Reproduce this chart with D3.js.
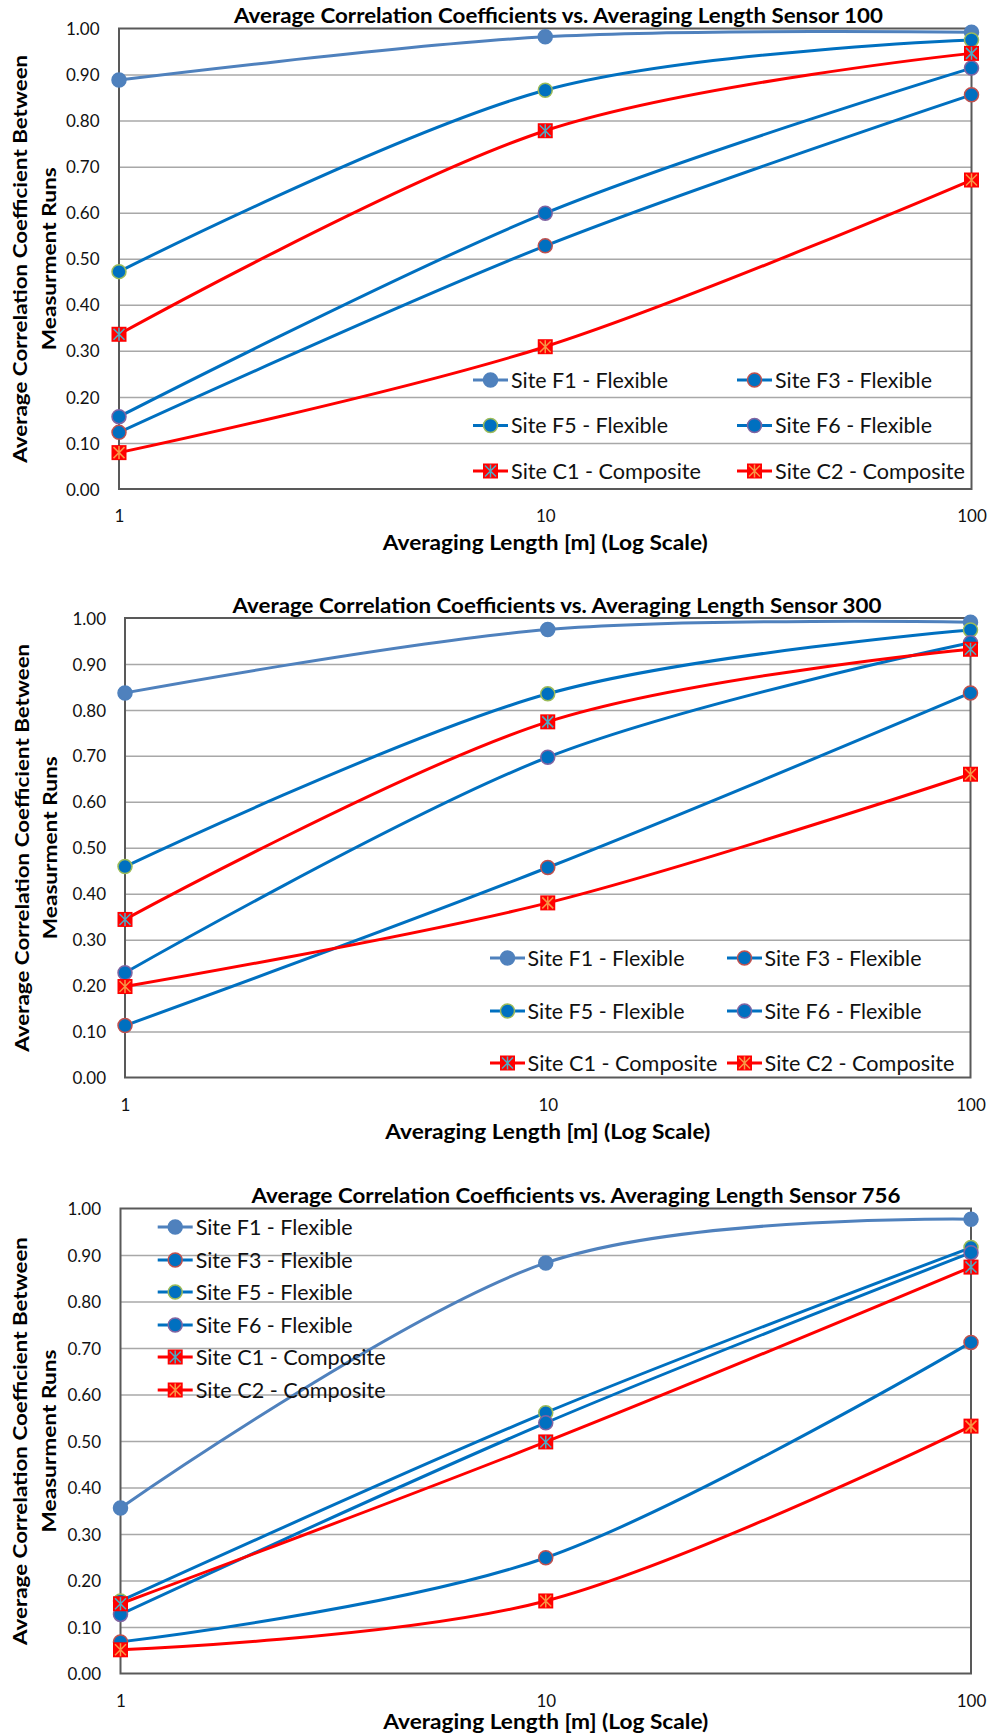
<!DOCTYPE html>
<html>
<head>
<meta charset="utf-8">
<script src="https://cdn.jsdelivr.net/npm/d3@7"></script>
<style>
  body { margin: 0; background: #fff; }
  svg { display: block; }
</style>
</head>
<body>
<svg id="chart" width="991" height="1735"></svg>
<script>
// data
const averagingLengths = [1, 10, 100];
const xTickValues = [1, 10, 100];
const yTickValues = [0, 0.1, 0.2, 0.3, 0.4, 0.5, 0.6, 0.7, 0.8, 0.9, 1.0];
const seriesNames = [
  'Site F1 - Flexible', 'Site F3 - Flexible', 'Site F5 - Flexible',
  'Site F6 - Flexible', 'Site C1 - Composite', 'Site C2 - Composite'
];
const chartTitles = [
  'Average Correlation Coefficients vs. Averaging Length Sensor 100',
  'Average Correlation Coefficients vs. Averaging Length Sensor 300',
  'Average Correlation Coefficients vs. Averaging Length Sensor 756'
];
const xTitle = 'Averaging Length [m] (Log Scale)';
const yTitleLines = ['Average Correlation Coefficient Between', 'Measurment Runs'];

// one row per series, same order as seriesNames
const sensor100Values = [
  [0.888, 0.982, 0.992],
  [0.123, 0.528, 0.856],
  [0.472, 0.866, 0.975],
  [0.157, 0.599, 0.914],
  [0.336, 0.778, 0.946],
  [0.079, 0.309, 0.671]
];
const sensor300Values = [
  [0.837, 0.975, 0.991],
  [0.113, 0.457, 0.837],
  [0.459, 0.835, 0.974],
  [0.228, 0.697, 0.946],
  [0.344, 0.774, 0.932],
  [0.198, 0.380, 0.660]
];
const sensor756Values = [
  [0.356, 0.883, 0.977],
  [0.068, 0.249, 0.712],
  [0.156, 0.561, 0.916],
  [0.127, 0.539, 0.905],
  [0.150, 0.498, 0.874],
  [0.051, 0.156, 0.532]
];
const allValues = [sensor100Values, sensor300Values, sensor756Values];

// styles (Excel 2007 look)
const FONT = 'Lato, "Liberation Sans", sans-serif';
const seriesStyles = [
  { line: '#4F81BD', fill: '#4F81BD', edge: '#4F81BD', shape: 'circle' },
  { line: '#0070C0', fill: '#0070C0', edge: '#C0504D', shape: 'circle' },
  { line: '#0070C0', fill: '#0070C0', edge: '#9BBB59', shape: 'circle' },
  { line: '#0070C0', fill: '#0070C0', edge: '#8064A2', shape: 'circle' },
  { line: '#FF0000', fill: '#FF0000', edge: '#4BACC6', shape: 'star' },
  { line: '#FF0000', fill: '#FF0000', edge: '#F79646', shape: 'star' }
];
const legendWidths = [157, 157, 157, 157, 190, 190];

const layouts = [
  { top: 28.5, bottom: 489, left: 119, right: 971.5, titleX: 558.5, tickRight: 99.5,
    yTitleX: [27, 56], xTitleGap: 61,
    legendRows: [380, 425.5, 471], legendCols: [473, 737], textGap: 38 },
  { top: 618, bottom: 1077.5, left: 125, right: 970.5, titleX: 557, tickRight: 106,
    yTitleX: [29, 57], xTitleGap: 61,
    legendRows: [958, 1011, 1063], legendCols: [490, 727], textGap: 37.5 },
  { top: 1208.5, bottom: 1673.5, left: 120.5, right: 971, titleX: 576, tickRight: 101,
    yTitleX: [27, 56], xTitleGap: 55,
    legendRows: [1227, 1260, 1292, 1325, 1357, 1390], legendCols: [157.7], textGap: 38 }
];

const svg = d3.select('#chart');

function drawMarker(g, style, x, y) {
  if (style.shape === 'circle') {
    g.append('circle')
      .attr('cx', x).attr('cy', y).attr('r', 7)
      .attr('fill', style.fill)
      .attr('stroke', style.edge)
      .attr('stroke-width', 1.5);
  } else {
    const s = 7.5;
    g.append('rect')
      .attr('x', x - s).attr('y', y - s)
      .attr('width', 2 * s).attr('height', 2 * s)
      .attr('fill', style.fill);
    g.append('path')
      .attr('d', `M${x - 5.5},${y - 5.5}L${x + 5.5},${y + 5.5}M${x - 5.5},${y + 5.5}L${x + 5.5},${y - 5.5}M${x},${y - 6.5}L${x},${y + 6.5}`)
      .attr('stroke', style.edge)
      .attr('stroke-width', 1.5)
      .attr('fill', 'none');
  }
}

function drawChart(k) {
  const L = layouts[k];
  const values = allValues[k];
  const g = svg.append('g');

  const x = d3.scaleLog().domain([1, 100]).range([L.left, L.right]);
  const y = d3.scaleLinear().domain([0, 1]).range([L.bottom, L.top]);

  // horizontal gridlines
  g.append('g')
    .attr('transform', `translate(${L.left},0)`)
    .call(d3.axisLeft(y).tickValues(yTickValues.slice(1, -1)).tickSize(-(L.right - L.left)).tickFormat(''))
    .call(a => a.select('.domain').remove())
    .call(a => a.selectAll('line').attr('stroke', '#a8a8a8').attr('stroke-width', 1.5));

  // y tick labels
  g.append('g')
    .attr('transform', `translate(${L.left},0)`)
    .call(d3.axisLeft(y).tickValues(yTickValues).tickSize(0).tickPadding(L.left - L.tickRight).tickFormat(d3.format('.2f')))
    .call(a => a.select('.domain').remove())
    .attr('font-family', FONT).attr('font-size', 17)
    .call(a => a.selectAll('text').attr('fill', '#111').attr('dy', '0.36em'));

  // x tick labels
  g.append('g')
    .attr('transform', `translate(0,${L.bottom})`)
    .call(d3.axisBottom(x).tickValues(xTickValues).tickSize(0).tickFormat(d3.format('d')))
    .call(a => a.select('.domain').remove())
    .attr('font-family', FONT).attr('font-size', 17)
    .call(a => a.selectAll('text').attr('fill', '#111').attr('y', 33).attr('dy', 0));

  // plot border
  g.append('rect')
    .attr('x', L.left).attr('y', L.top)
    .attr('width', L.right - L.left).attr('height', L.bottom - L.top)
    .attr('fill', 'none')
    .attr('stroke', '#595959')
    .attr('stroke-width', 2);

  // series
  const line = d3.line()
    .x((d, i) => x(averagingLengths[i]))
    .y(d => y(d))
    .curve(d3.curveCardinal.tension(0));

  values.forEach((vals, si) => {
    const st = seriesStyles[si];
    const sg = g.append('g');
    sg.append('path')
      .attr('d', line(vals))
      .attr('fill', 'none')
      .attr('stroke', st.line)
      .attr('stroke-width', 3);
    vals.forEach((v, i) => drawMarker(sg, st, x(averagingLengths[i]), y(v)));
  });

  // legend (transparent, gridlines show through)
  const nCols = L.legendCols.length;
  seriesNames.forEach((name, si) => {
    const st = seriesStyles[si];
    const lx = L.legendCols[si % nCols];
    const ly = L.legendRows[Math.floor(si / nCols)];
    const lg = g.append('g');
    lg.append('line')
      .attr('x1', lx).attr('x2', lx + 35)
      .attr('y1', ly).attr('y2', ly)
      .attr('stroke', st.line).attr('stroke-width', 3);
    drawMarker(lg, st, lx + 17.5, ly);
    lg.append('text')
      .attr('x', lx + L.textGap).attr('y', ly).attr('dy', '0.36em')
      .attr('font-family', FONT).attr('font-size', 21)
      .attr('textLength', legendWidths[si]).attr('lengthAdjust', 'spacingAndGlyphs')
      .attr('fill', '#111')
      .text(name);
  });

  // chart title
  g.append('text')
    .attr('x', L.titleX).attr('y', L.top - 5.5)
    .attr('text-anchor', 'middle')
    .attr('font-family', FONT).attr('font-size', 20).attr('font-weight', 'bold')
    .attr('textLength', 649).attr('lengthAdjust', 'spacingAndGlyphs')
    .text(chartTitles[k]);

  // x axis title
  g.append('text')
    .attr('x', x(10)).attr('y', L.bottom + L.xTitleGap)
    .attr('text-anchor', 'middle')
    .attr('font-family', FONT).attr('font-size', 21).attr('font-weight', 'bold')
    .attr('textLength', 325).attr('lengthAdjust', 'spacingAndGlyphs')
    .text(xTitle);

  // y axis title, two lines
  const cy = (L.top + L.bottom) / 2;
  const yLens = [408, 183];
  yTitleLines.forEach((t, i) => {
    g.append('text')
      .attr('transform', `translate(${L.yTitleX[i]},${cy}) rotate(-90)`)
      .attr('text-anchor', 'middle')
      .attr('font-family', FONT).attr('font-size', 19.5).attr('font-weight', 'bold')
      .attr('textLength', yLens[i]).attr('lengthAdjust', 'spacingAndGlyphs')
      .text(t);
  });
}

[0, 1, 2].forEach(drawChart);
</script>
</body>
</html>
